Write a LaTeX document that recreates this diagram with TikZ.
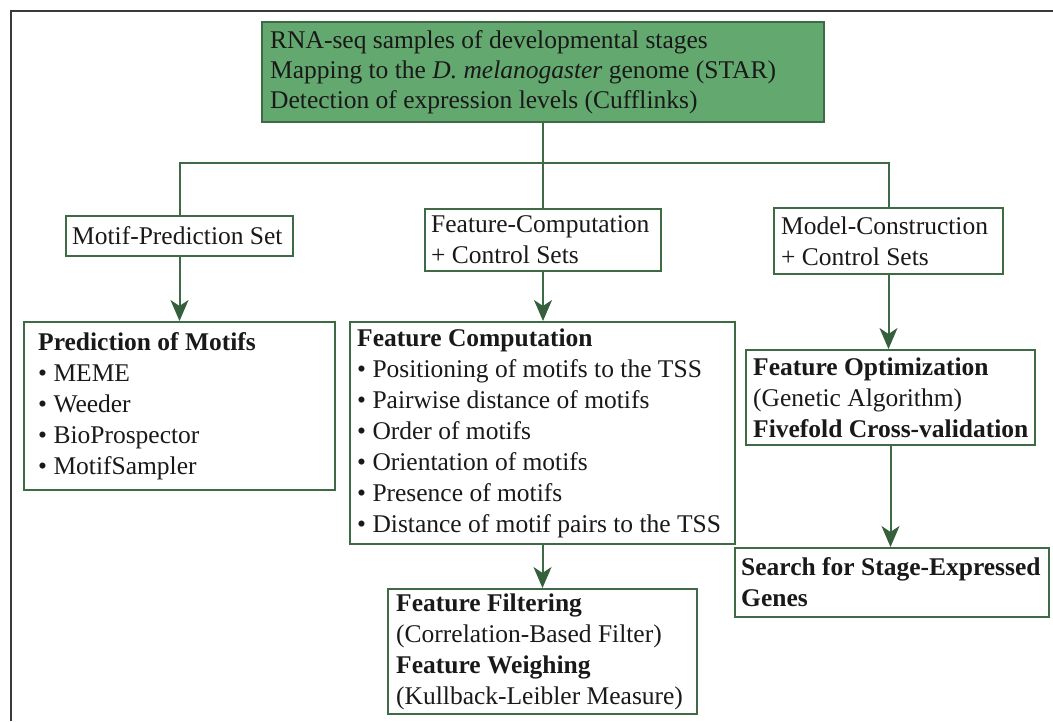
\documentclass[tikz,border=0pt]{standalone}
\usepackage{fontspec}
\setmainfont{Liberation Serif}
\usetikzlibrary{arrows.meta,positioning}
\definecolor{gfill}{HTML}{63A86E}
\definecolor{gline}{HTML}{3E6B45}
\definecolor{garrow}{HTML}{35603B}
\definecolor{frameg}{HTML}{3A3A3A}
\begin{document}
\begin{tikzpicture}[x=1pt,y=-1pt,
  boxst/.style={draw=gline,line width=2pt,rectangle,inner sep=0pt,anchor=north west},
  greenbox/.style={boxst,fill=gfill},
  txt/.style={anchor=west,align=left,inner sep=0pt,font=\fontsize{25.5}{31}\selectfont,text=black!90},
  conn/.style={draw=gline,line width=2pt},
  arr/.style={conn,-{Stealth[length=21pt,width=18pt,inset=6pt,fill=garrow,color=garrow]}},
  frameline/.style={draw=frameg,line width=2.2pt}]
\useasboundingbox (0,0) rectangle (1053,721);
\draw[frameline] (11,721) -- (11,11) -- (1053,11);

% boxes
\node[greenbox,minimum width=562pt,minimum height=100pt] (top) at (261,21) {};
\node[boxst,minimum width=227pt,minimum height=40pt] (mps) at (65,215) {};
\node[boxst,minimum width=236pt,minimum height=62pt] (fcs) at (424,208) {};
\node[boxst,minimum width=229pt,minimum height=66pt] (mcs) at (773,207) {};
\node[boxst,minimum width=311pt,minimum height=168pt] (pom) at (23,321) {};
\node[boxst,minimum width=385pt,minimum height=222pt] (fc) at (349,321) {};
\node[boxst,minimum width=289pt,minimum height=95pt] (fo) at (745,349) {};
\node[boxst,minimum width=314pt,minimum height=69pt] (search) at (734,547) {};
\node[boxst,minimum width=309pt,minimum height=125pt] (ff) at (387,588) {};

% texts
\node[txt,font=\fontsize{25.5}{30}\selectfont] (topt) at ([xshift=9pt]top.west) {RNA-seq samples of developmental stages\\Mapping to the \textit{D. melanogaster} genome (STAR)\\Detection of expression levels (Cufflinks)};
\node[txt] (mpst) at ([xshift=7pt]mps.west) {Motif-Prediction Set};
\node[txt] (fcst) at ([xshift=7pt]fcs.west) {Feature-Computation\\+ Control Sets};
\node[txt] (mcst) at ([xshift=8pt]mcs.west) {Model-Construction\\+ Control Sets};
\node[txt] (pomt) at ([xshift=15pt]pom.west) {\textbf{Prediction of Motifs}\\• MEME\\• Weeder\\• BioProspector\\• MotifSampler};
\node[txt] (fct) at ([xshift=8pt]fc.west) {\textbf{Feature Computation}\\• Positioning of motifs to the TSS\\• Pairwise distance of motifs\\• Order of motifs\\• Orientation of motifs\\• Presence of motifs\\• Distance of motif pairs to the TSS};
\node[txt] (fot) at ([xshift=8pt]fo.west) {\textbf{Feature Optimization}\\(Genetic Algorithm)\\\textbf{Fivefold Cross-validation}};
\node[txt] (searcht) at ([xshift=7pt]search.west) {\textbf{Search for Stage-Expressed}\\\textbf{Genes}};
\node[txt] (fft) at ([xshift=9pt]ff.west) {\textbf{Feature Filtering}\\(Correlation-Based Filter)\\\textbf{Feature Weighing}\\(Kullback-Leibler Measure)};

% connectors
\coordinate (busM) at (top.south |- 0,163);
\draw[conn] (top.south) -- (busM);
\draw[conn] (mps.north) |- (busM) -| (mcs.north);
\draw[conn] (busM) -- (busM |- fcs.north);
\draw[arr] (mps.south) -- (pom.north);
\draw[arr] (fcs.south) -- (fcs.south |- fc.north);
\draw[arr] (mcs.south) -- (mcs.south |- fo.north);
\draw[arr] (fo.south) -- (fo.south |- search.north);
\draw[arr] (fc.south) -- (fc.south |- ff.north);
\end{tikzpicture}
\end{document}
